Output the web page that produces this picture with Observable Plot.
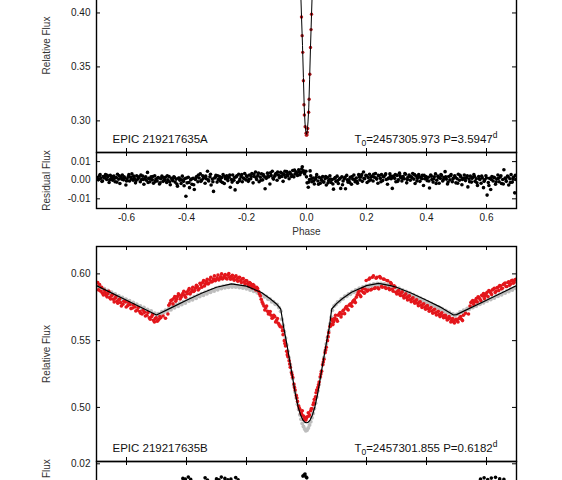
<!DOCTYPE html>
<html><head><meta charset="utf-8">
<script src="https://cdn.jsdelivr.net/npm/d3@7"></script>
<script src="https://cdn.jsdelivr.net/npm/@observablehq/plot@0.6"></script>
<style>
html,body{margin:0;padding:0;background:#fff;}
#wrap{position:relative;width:562px;height:480px;overflow:hidden;background:#fff;}
</style></head>
<body><div id="wrap"></div>
<script>
// ---------- tick values ----------
const XTICKS = [-0.6,-0.4,-0.2,0,0.2,0.4,0.6];
const A_YTICKS = [0.30,0.35,0.40,0.45];
const RA_YTICKS = [-0.01,0,0.01];
const B_YTICKS = [0.50,0.55,0.60];
const RB_YTICKS = [-0.02,0,0.02];

// ---------- labels ----------
const LABEL_A = "EPIC 219217635A";
const LABEL_B = "EPIC 219217635B";
const EPHEM_A = "=2457305.973 P=3.5947";
const EPHEM_B = "=2457301.855 P=0.6182";

// ---------- EPIC 219217635A: phased data [phase, flux] ----------
const dataA = [[-.0167,.3963],[-.0145,.3790],[-.0125,.3635],[-.0103,.3372],[-.0085,.3150],[-.0072,.3055],[-.0045,.2945],[-.0015,.2885],[0,.2868],[.0012,.2872],[.0025,.2895],[.0040,.2930],[.0072,.3080],[.0088,.3200],[.0110,.3432],[.0133,.3680],[.0152,.3846],[.0167,.3988]];
// model curve A
const modelA = [[-.0227,.450],[-.0167,.397],[-.0133,.370],[-.0103,.340],[-.0075,.312],[-.0050,.298],[-.0025,.2905],[0,.2875],[.0025,.2905],[.0050,.299],[.0075,.312],[.0103,.338],[.0133,.368],[.0167,.398],[.0227,.450]];

// residuals A [phase, residual]
const residA = [[-.698,.0015],[-.694,.0002],[-.690,.0024],[-.686,.0010],[-.682,-.0006],[-.678,.0020],[-.674,.0012],[-.670,.0030],[-.666,.0004],[-.662,.0018],[-.658,-.0012],[-.654,.0026],[-.650,.0010],[-.646,.0000],[-.642,.0022],[-.638,-.0008],[-.634,.0014],[-.630,.0032],[-.626,.0006],[-.622,-.0018],[-.618,.0016],[-.614,.0028],[-.610,.0002],[-.606,.0012],[-.602,-.0026],[-.598,.0008],[-.594,.0020],[-.590,-.0004],[-.586,.0016],[-.582,.0034],[-.578,.0000],[-.574,.0010],[-.570,-.0014],[-.566,.0024],[-.562,.0006],[-.558,.0018],[-.554,-.0008],[-.550,.0004],[-.546,.0022],[-.542,-.0022],[-.538,.0012],[-.534,.0000],[-.530,.0042],
[-.526,.0010],[-.522,-.0008],[-.518,.0018],[-.514,.0002],[-.510,-.0016],[-.506,.0024],[-.502,.0006],[-.498,-.0004],[-.494,.0014],[-.490,-.0020],[-.486,.0008],[-.482,.0022],[-.478,-.0006],[-.474,.0004],[-.470,.0016],[-.466,-.0012],[-.462,.0002],[-.458,.0020],[-.454,-.0024],[-.450,.0010],[-.446,-.0002],[-.442,.0018],[-.438,-.0010],[-.434,.0006],[-.430,-.0032],[-.426,.0012],[-.422,.0000],[-.418,-.0018],[-.414,.0022],[-.410,-.0006],[-.406,.0008],[-.402,-.0086],[-.398,-.0014],[-.394,.0016],[-.390,-.0040],[-.386,.0002],[-.382,-.0022],[-.378,.0010],[-.374,-.0050],[-.370,.0004],
[-.366,.0020],[-.362,-.0008],[-.358,.0012],[-.354,.0034],[-.350,.0000],[-.346,.0024],[-.342,.0016],[-.338,-.0016],[-.334,.0008],[-.330,.0048],[-.326,-.0004],[-.322,.0018],[-.318,-.0026],[-.314,.0006],[-.310,-.0060],[-.306,.0012],[-.302,.0026],[-.298,-.0010],[-.294,.0004],[-.290,.0020],[-.286,-.0006],[-.282,.0014],[-.278,.0030],[-.274,-.0018],[-.270,.0008],[-.266,.0024],[-.262,-.0002],[-.258,.0016],[-.254,-.0038],[-.250,.0004],[-.246,.0028],[-.242,.0000],[-.238,-.0052],[-.234,.0018],[-.230,-.0012],[-.226,.0032],[-.222,.0006],[-.218,.0020],[-.214,-.0008],[-.210,.0012],[-.206,.0036],[-.202,.0002],
[-.198,.0018],[-.194,-.0006],[-.190,.0028],[-.186,.0008],[-.182,.0036],[-.178,-.0014],[-.174,.0020],[-.170,.0044],[-.166,.0004],[-.162,.0026],[-.158,-.0008],[-.154,.0016],[-.150,.0034],[-.146,.0002],[-.142,.0022],[-.138,-.0046],[-.134,.0010],[-.130,.0038],[-.126,.0018],[-.122,-.0020],[-.118,.0026],[-.114,.0048],[-.110,.0006],[-.106,.0022],[-.102,.0036],[-.098,.0000],[-.094,.0028],[-.090,.0014],[-.086,.0042],[-.082,.0020],[-.078,-.0006],[-.074,.0030],[-.070,.0016],[-.066,.0046],[-.062,.0024],[-.058,.0008],[-.054,.0036],[-.050,.0020],[-.046,.0052],[-.042,.0018],[-.038,.0034],[-.034,.0044],[-.030,.0026],[-.026,.0056],[-.022,.0030],[-.018,.0042],[-.014,.0072],[-.010,.0050],[-.006,.0034],[-.002,.0048],
[.002,-.0014],[.006,-.0038],[.010,.0004],[.012,.0050],[.014,.0024],[.018,-.0008],[.022,.0012],[.026,-.0020],[.030,.0006],[.034,.0030],[.038,-.0004],[.042,.0016],[.046,-.0016],[.050,.0000],[.054,.0020],[.058,-.0010],[.062,.0008],[.066,-.0026],[.070,.0014],[.074,-.0002],[.078,.0024],[.082,-.0012],[.086,.0004],[.090,-.0048],[.094,.0010],[.098,-.0006],[.102,.0022],[.106,-.0018],[.110,.0006],[.114,-.0044],[.118,.0018],[.122,-.0004],[.126,.0008],[.130,-.0046],[.134,.0026],[.138,-.0010],[.142,.0002],[.146,.0016],[.150,-.0022],[.154,.0006],[.158,.0028],[.162,-.0008],[.166,.0012],[.170,-.0016],[.174,.0030],[.178,.0002],
[.182,.0018],[.186,-.0006],[.190,.0044],[.194,.0008],[.198,.0026],[.202,-.0012],[.206,.0014],[.210,.0032],[.214,.0002],[.218,.0020],[.222,-.0004],[.226,.0016],[.230,.0036],[.234,.0006],[.238,-.0016],[.242,.0024],[.246,.0010],[.250,.0030],[.254,-.0002],[.258,.0018],[.262,.0028],[.266,.0004],[.270,-.0022],[.274,.0012],[.278,.0034],[.282,.0008],[.286,-.0044],[.290,.0022],[.294,.0010],[.298,-.0008],[.302,.0026],[.306,.0002],[.310,.0038],[.314,.0014],[.318,-.0004],[.322,.0020],[.326,.0008],[.330,.0032],[.334,-.0014],[.338,.0016],[.342,.0028],[.346,.0000],[.350,.0018],[.354,.0036],[.358,.0006],[.362,-.0018],[.366,.0022],[.370,.0010],[.374,.0030],[.378,-.0006],[.382,.0014],[.386,.0026],[.390,-.0028],[.394,.0008],[.398,.0020],
[.402,-.0002],[.406,.0016],[.410,-.0042],[.414,.0028],[.418,.0004],[.422,-.0010],[.426,.0018],[.430,.0034],[.434,.0000],[.438,.0022],[.442,-.0016],[.446,.0010],[.450,.0026],[.454,-.0004],[.458,.0014],[.462,.0046],[.466,.0006],[.470,-.0020],[.474,.0020],[.478,.0002],[.482,.0030],[.486,-.0008],[.490,.0012],[.494,.0024],[.498,-.0014],[.502,.0008],[.506,.0032],[.510,.0000],[.514,.0018],[.518,-.0024],[.522,.0010],[.526,.0028],[.530,-.0002],[.534,.0014],[.538,-.0036],[.542,.0006],[.546,.0022],[.550,-.0010],[.554,.0016],[.558,.0030],[.562,-.0006],[.566,.0008],[.570,-.0028],[.574,.0020],[.578,.0004],[.582,-.0016],[.586,.0012],[.590,-.0040],[.594,.0002],[.598,.0024],[.602,-.0080],[.606,-.0012],[.610,.0010],[.614,-.0050],[.618,.0020],[.622,-.0004],[.626,.0014],[.630,-.0022],[.634,.0006],[.638,.0028],[.642,-.0008],[.646,.0018],[.650,-.0018],[.654,.0004],[.658,.0056],[.662,.0012],[.666,-.0006],[.670,.0022],[.674,-.0026],[.678,.0008],[.682,.0030],[.686,-.0010],[.690,.0016],[.694,-.0068],[.698,.0004]];

// residuals A, second group of cadences [phase, residual]
const residA2 = [[-.696,.0008],[-.688,.0030],[-.680,-.0004],[-.672,.0016],[-.664,.0026],[-.656,.0002],[-.648,.0020],[-.640,.0010],[-.632,-.0010],[-.624,.0024],[-.616,.0006],[-.608,.0018],[-.600,-.0004],[-.592,.0030],[-.584,.0008],[-.576,.0022],[-.568,-.0002],[-.560,.0014],[-.552,.0028],[-.544,.0004],[-.536,.0018],[-.528,-.0012],
[-.520,.0008],[-.512,.0020],[-.504,-.0006],[-.496,.0012],[-.488,-.0014],[-.480,.0016],[-.472,.0000],[-.464,.0024],[-.456,-.0008],[-.448,.0006],[-.440,.0014],[-.432,-.0020],[-.424,.0010],[-.416,.0002],[-.408,-.0030],[-.400,.0012],[-.392,-.0012],[-.384,.0006],[-.376,-.0024],
[-.368,.0014],[-.360,.0028],[-.352,-.0006],[-.344,.0010],[-.336,.0022],[-.328,.0002],[-.320,.0032],[-.312,-.0008],[-.304,.0016],[-.296,.0024],[-.288,.0004],[-.280,-.0012],[-.272,.0020],[-.264,.0010],[-.256,.0028],[-.248,-.0010],[-.240,.0014],[-.232,.0024],[-.224,-.0004],[-.216,.0030],[-.208,.0008],
[-.200,.0024],[-.192,.0004],[-.184,.0020],[-.176,.0032],[-.168,.0014],[-.160,.0038],[-.152,.0000],[-.144,.0030],[-.136,.0016],[-.128,.0024],[-.120,.0040],[-.112,.0012],[-.104,.0030],[-.096,.0044],[-.088,.0022],[-.080,.0036],[-.072,.0048],[-.064,.0030],[-.056,.0042],[-.048,.0028],[-.040,.0054],[-.032,.0036],[-.024,.0046],[-.016,.0060],[-.008,.0040],
[.000,.0018],[.008,-.0010],[.016,.0008],[.024,-.0004],[.032,.0016],[.040,-.0022],[.048,.0010],[.056,-.0008],[.064,.0020],[.072,-.0014],[.080,.0006],[.088,-.0020],[.096,.0014],[.104,-.0002],[.112,.0010],[.120,-.0024],[.128,.0016],[.136,.0002],[.144,-.0012],[.152,.0020],[.160,.0004],[.168,-.0006],[.176,.0018],
[.184,.0030],[.192,.0010],[.200,.0024],[.208,-.0004],[.216,.0018],[.224,.0032],[.232,.0012],[.240,.0026],[.248,-.0008],[.256,.0020],[.264,.0034],[.272,.0008],[.280,.0022],[.288,.0014],[.296,.0030],[.304,-.0006],[.312,.0024],[.320,.0010],[.328,.0036],[.336,.0004],[.344,.0020],[.352,.0012],[.360,.0030],[.368,-.0004],[.376,.0018],[.384,.0008],[.392,.0026],
[.400,.0012],[.408,-.0004],[.416,.0022],[.424,.0008],[.432,-.0018],[.440,.0014],[.448,.0030],[.456,.0002],[.464,.0018],[.472,-.0010],[.480,.0024],[.488,.0006],[.496,.0016],[.504,-.0016],[.512,.0026],[.520,.0004],[.528,.0012],[.536,.0024],[.544,-.0008],[.552,.0010],[.560,.0020],[.568,-.0014],[.576,.0008],[.584,.0022],[.592,-.0006],[.600,.0012],[.608,-.0028],[.616,.0004],[.624,.0016],[.632,-.0010],[.640,.0010],[.648,.0024],[.656,-.0020],[.664,.0006],[.672,.0018],[.680,-.0012],[.688,.0008],[.696,.0026]];

// ---------- EPIC 219217635B ----------
// gray data set [phase, flux]
const grayB = [[-.698,.5912],[-.692,.5890],[-.686,.5902],[-.680,.5878],[-.674,.5888],[-.668,.5865],[-.662,.5876],[-.656,.5852],[-.650,.5862],[-.644,.5838],[-.638,.5850],[-.632,.5826],[-.626,.5836],[-.620,.5812],[-.614,.5824],[-.608,.5800],[-.602,.5810],[-.596,.5788],[-.590,.5798],[-.584,.5774],[-.578,.5786],[-.572,.5762],[-.566,.5772],[-.560,.5750],[-.554,.5760],[-.548,.5736],[-.542,.5748],[-.536,.5724],[-.530,.5734],[-.524,.5712],[-.518,.5722],[-.512,.5698],[-.506,.5706],[-.500,.5686],[-.494,.5702],[-.488,.5694],[-.482,.5716],[-.476,.5708],[-.470,.5728],[-.464,.5720],[-.458,.5742],[-.452,.5732],[-.446,.5754],[-.440,.5746],[-.434,.5768],[-.428,.5758],[-.422,.5780],[-.416,.5770],[-.410,.5792],[-.404,.5782],[-.398,.5804],[-.392,.5796],[-.386,.5816],[-.380,.5806],[-.374,.5828],[-.368,.5818],[-.362,.5840],[-.356,.5830],[-.350,.5852],[-.344,.5840],[-.338,.5862],[-.332,.5852],[-.326,.5872],[-.320,.5862],[-.314,.5882],[-.308,.5872],[-.302,.5892],[-.296,.5882],[-.290,.5900],[-.284,.5890],[-.278,.5908],[-.272,.5896],[-.266,.5912],[-.260,.5900],[-.254,.5914],[-.248,.5902],[-.242,.5916],[-.236,.5902],[-.230,.5912],[-.224,.5898],[-.218,.5908],[-.212,.5894],[-.206,.5902],[-.200,.5888],[-.194,.5896],[-.188,.5880],[-.182,.5886],[-.176,.5870],[-.170,.5874],[-.164,.5858],[-.158,.5862],[-.152,.5844],[-.146,.5846],[-.140,.5828],[-.134,.5830],[-.128,.5810],[-.122,.5812],[-.116,.5792],[-.110,.5792],[-.104,.5772],[-.098,.5770],[-.092,.5748],[-.086,.5720],[-.082,.5660],[-.078,.5615],[-.074,.5568],[-.070,.5520],[-.066,.5468],[-.062,.5420],[-.058,.5370],[-.054,.5318],[-.050,.5268],[-.046,.5216],[-.042,.5166],[-.038,.5116],[-.034,.5070],[-.030,.5024],[-.026,.4984],[-.022,.4946],[-.018,.4912],[-.014,.4880],[-.010,.4858],[-.006,.4838],[-.002,.4826],[.002,.4830],[.006,.4846],[.010,.4868],[.014,.4892],[.018,.4922],[.022,.4955],[.026,.4992],[.030,.5032],[.034,.5078],[.038,.5124],[.042,.5172],[.046,.5222],[.050,.5272],[.054,.5322],[.058,.5372],[.062,.5424],[.066,.5474],[.070,.5524],[.074,.5574],[.078,.5624],[.082,.5676],[.086,.5728],[.092,.5760],[.098,.5770],[.104,.5790],[.110,.5794],[.116,.5812],[.122,.5814],[.128,.5832],[.134,.5832],[.140,.5850],[.146,.5848],[.152,.5866],[.158,.5862],[.164,.5880],[.170,.5876],[.176,.5892],[.182,.5886],[.188,.5902],[.194,.5896],[.200,.5912],[.206,.5904],[.212,.5918],[.218,.5910],[.224,.5924],[.230,.5914],[.236,.5928],[.242,.5918],[.248,.5928],[.254,.5916],[.260,.5924],[.266,.5912],[.272,.5920],[.278,.5904],[.284,.5912],[.290,.5896],[.296,.5902],[.302,.5886],[.308,.5892],[.314,.5874],[.320,.5880],[.326,.5862],[.332,.5868],[.338,.5850],[.344,.5856],[.350,.5838],[.356,.5844],[.362,.5826],[.368,.5830],[.374,.5812],[.380,.5818],[.386,.5800],[.392,.5804],[.398,.5786],[.404,.5792],[.410,.5772],[.416,.5778],[.422,.5760],[.428,.5764],[.434,.5746],[.440,.5752],[.446,.5734],[.452,.5738],[.458,.5720],[.464,.5726],[.470,.5708],[.476,.5712],[.482,.5696],[.488,.5700],[.494,.5686],[.500,.5696],[.506,.5700],[.512,.5714],[.518,.5712],[.524,.5728],[.530,.5724],[.536,.5740],[.542,.5736],[.548,.5752],[.554,.5748],[.560,.5764],[.566,.5760],[.572,.5776],[.578,.5772],[.584,.5788],[.590,.5784],[.596,.5800],[.602,.5796],[.608,.5812],[.614,.5808],[.620,.5824],[.626,.5820],[.632,.5836],[.638,.5832],[.644,.5848],[.650,.5844],[.656,.5860],[.662,.5856],[.668,.5872],[.674,.5868],[.680,.5884],[.686,.5880],[.692,.5896],[.698,.5892]];

// red data set [phase, flux]
const redB = [[-.696,.5935],[-.690,.5920],[-.686,.5870],[-.680,.5855],[-.674,.5878],[-.668,.5840],[-.662,.5852],[-.656,.5822],[-.650,.5835],[-.644,.5810],[-.638,.5818],[-.632,.5795],[-.626,.5805],[-.620,.5785],[-.612,.5772],[-.604,.5790],[-.596,.5762],[-.588,.5770],[-.580,.5745],[-.572,.5752],[-.564,.5730],[-.556,.5718],[-.548,.5700],[-.540,.5712],[-.532,.5690],[-.524,.5672],[-.516,.5680],[-.510,.5652],[-.504,.5665],[-.498,.5645],[-.492,.5660],[-.486,.5672],[-.478,.5685],[-.470,.5668],
[-.462,.5700],[-.455,.5780],[-.448,.5805],[-.442,.5818],[-.436,.5795],[-.430,.5830],[-.424,.5842],[-.418,.5825],[-.412,.5855],[-.406,.5838],[-.400,.5862],[-.394,.5875],[-.388,.5850],[-.382,.5880],[-.376,.5868],[-.370,.5895],[-.364,.5905],[-.358,.5888],
[-.352,.5918],[-.346,.5935],[-.340,.5910],[-.334,.5942],[-.328,.5925],[-.322,.5955],[-.316,.5940],[-.310,.5962],[-.304,.5948],[-.298,.5970],[-.292,.5955],[-.286,.5978],[-.280,.5962],[-.274,.5985],[-.268,.5968],[-.262,.5990],[-.256,.5975],[-.250,.5982],[-.244,.5965],[-.238,.5978],[-.232,.5960],[-.226,.5972],[-.220,.5950],[-.214,.5962],[-.208,.5940],[-.202,.5950],[-.196,.5928],[-.190,.5935],[-.184,.5912],[-.178,.5920],[-.172,.5895],[-.166,.5900],
[-.160,.5870],[-.154,.5835],[-.148,.5790],[-.142,.5760],[-.136,.5745],[-.130,.5720],[-.124,.5705],[-.118,.5690],[-.112,.5672],[-.106,.5680],[-.100,.5650],[-.094,.5630],[-.088,.5605],
[-.082,.5600],[-.078,.5545],[-.074,.5500],[-.070,.5460],[-.066,.5420],[-.062,.5380],[-.058,.5350],[-.054,.5300],[-.050,.5260],[-.046,.5225],[-.042,.5175],[-.038,.5130],[-.034,.5090],[-.030,.5045],[-.026,.5010],[-.022,.4985],[-.018,.4960],[-.014,.4975],[-.010,.4935],[-.006,.4925],[-.002,.4905],[.002,.4930],[.006,.4960],[.010,.4945],[.014,.4975],[.018,.4990],[.022,.5020],[.026,.5060],[.030,.5080],[.034,.5130],[.038,.5150],[.042,.5190],[.046,.5230],[.050,.5270],[.054,.5320],[.058,.5360],[.062,.5410],[.066,.5450],[.070,.5500],[.074,.5560],[.078,.5605],
[.082,.5625],[.086,.5650],[.090,.5640],[.094,.5670],[.100,.5660],[.106,.5690],[.112,.5710],[.118,.5700],[.124,.5730],[.130,.5745],[.136,.5738],[.142,.5765],[.148,.5775],[.154,.5790],[.160,.5805],
[.166,.5825],[.172,.5858],[.178,.5842],[.184,.5872],[.190,.5860],[.196,.5885],[.202,.5870],[.208,.5960],[.214,.5880],[.220,.5975],[.226,.5890],[.232,.5968],[.238,.5895],[.244,.5980],[.250,.5905],[.256,.5962],[.262,.5900],[.268,.5950],[.274,.5892],[.280,.5935],[.286,.5885],[.292,.5910],
[.298,.5862],[.304,.5870],[.310,.5850],[.316,.5858],[.322,.5835],[.328,.5842],[.334,.5822],[.340,.5830],[.346,.5808],[.352,.5815],[.358,.5795],[.364,.5800],[.370,.5780],[.376,.5788],[.382,.5765],[.388,.5772],[.394,.5750],[.400,.5758],[.406,.5738],[.412,.5742],[.418,.5722],[.424,.5730],[.430,.5708],[.436,.5715],[.442,.5695],[.448,.5702],[.454,.5685],
[.460,.5690],[.466,.5672],[.472,.5660],[.478,.5668],[.484,.5650],[.490,.5642],[.496,.5655],[.502,.5648],[.508,.5665],[.514,.5680],[.520,.5650],[.540,.5700],
[.548,.5785],[.554,.5800],[.560,.5790],[.566,.5815],[.572,.5828],[.578,.5812],[.584,.5840],[.590,.5852],[.596,.5835],[.602,.5862],[.608,.5875],[.614,.5858],[.620,.5880],[.626,.5892],[.632,.5870],[.638,.5900],[.644,.5912],[.650,.5888],[.656,.5920],[.662,.5932],[.668,.5905],[.674,.5940],[.680,.5925],[.686,.5952],[.692,.5935],[.698,.5960]];

// red data set, further cycles [phase, flux]
const redB2 = [[-.693,.5880],[-.683,.5900],[-.677,.5842],[-.671,.5860],[-.665,.5828],[-.659,.5870],[-.653,.5812],[-.647,.5845],[-.641,.5790],[-.635,.5830],[-.629,.5780],[-.623,.5812],[-.617,.5760],[-.609,.5795],[-.601,.5752],[-.593,.5785],[-.585,.5740],[-.577,.5768],[-.569,.5722],[-.561,.5748],[-.553,.5706],[-.545,.5728],[-.537,.5685],[-.529,.5710],[-.521,.5660],[-.513,.5695],[-.507,.5640],[-.501,.5672],[-.495,.5650],[-.489,.5680],
[-.459,.5765],[-.452,.5800],[-.445,.5775],[-.439,.5830],[-.433,.5810],[-.427,.5850],[-.421,.5812],[-.415,.5840],[-.409,.5870],[-.403,.5825],[-.397,.5852],[-.391,.5890],[-.385,.5862],[-.379,.5900],[-.373,.5875],[-.367,.5915],[-.361,.5880],
[-.355,.5930],[-.349,.5900],[-.343,.5950],[-.337,.5925],[-.331,.5960],[-.325,.5932],[-.319,.5975],[-.313,.5945],[-.307,.5985],[-.301,.5958],[-.295,.5992],[-.289,.5965],[-.283,.6000],[-.277,.5970],[-.271,.5995],[-.265,.5962],[-.259,.6002],[-.253,.5960],[-.247,.5990],[-.241,.5952],[-.235,.5985],[-.229,.5945],[-.223,.5975],[-.217,.5935],[-.211,.5965],[-.205,.5925],[-.199,.5948],[-.193,.5910],[-.187,.5930],[-.181,.5895],[-.175,.5912],[-.169,.5880],[-.163,.5890],
[-.157,.5850],[-.151,.5810],[-.145,.5775],[-.139,.5730],[-.133,.5760],[-.127,.5700],[-.121,.5718],[-.115,.5668],[-.109,.5690],[-.103,.5640],[-.097,.5665],[-.091,.5618],
[-.080,.5575],[-.072,.5478],[-.064,.5395],[-.056,.5325],[-.048,.5245],[-.040,.5150],[-.032,.5070],[-.024,.4995],[-.016,.4948],[-.008,.4910],[.000,.4920],[.008,.4935],[.016,.4990],[.024,.5035],[.032,.5110],[.040,.5170],[.048,.5250],[.056,.5340],[.064,.5430],[.072,.5530],[.080,.5610],
[.084,.5660],[.088,.5620],[.092,.5655],[.097,.5690],[.103,.5645],[.109,.5700],[.115,.5678],[.121,.5722],[.127,.5702],[.133,.5755],[.139,.5730],[.145,.5772],[.151,.5758],[.157,.5800],[.163,.5785],
[.169,.5842],[.175,.5870],[.181,.5830],[.187,.5890],[.193,.5855],[.199,.5950],[.205,.5878],[.211,.5968],[.217,.5885],[.223,.5985],[.229,.5895],[.235,.5975],[.241,.5888],[.247,.5970],[.253,.5900],[.259,.5960],[.265,.5890],[.271,.5948],[.277,.5882],[.283,.5925],[.289,.5870],[.295,.5900],
[.301,.5850],[.307,.5875],[.313,.5838],[.319,.5865],[.325,.5820],[.331,.5850],[.337,.5805],[.343,.5835],[.349,.5792],[.355,.5820],[.361,.5780],[.367,.5805],[.373,.5762],[.379,.5790],[.385,.5748],[.391,.5775],[.397,.5735],[.403,.5762],[.409,.5720],[.415,.5748],[.421,.5705],[.427,.5735],[.433,.5692],[.439,.5720],[.445,.5680],[.451,.5708],
[.457,.5672],[.463,.5690],[.469,.5655],[.475,.5680],[.481,.5640],[.487,.5665],[.493,.5632],[.499,.5660],[.505,.5640],[.511,.5672],[.517,.5660],[.523,.5690],[.530,.5705],
[.545,.5760],[.551,.5790],[.557,.5772],[.563,.5800],[.569,.5790],[.575,.5822],[.581,.5800],[.587,.5835],[.593,.5815],[.599,.5850],[.605,.5830],[.611,.5870],[.617,.5845],[.623,.5885],[.629,.5860],[.635,.5895],[.641,.5875],[.647,.5910],[.653,.5892],[.659,.5925],[.665,.5905],[.671,.5935],[.677,.5915],[.683,.5948],[.689,.5930],[.695,.5955]];

// model curve B
const modelB = [[-.70,.5912],[-.60,.5802],[-.50,.5692],[-.45,.5747],[-.40,.5802],[-.35,.5855],[-.30,.5900],[-.25,.5925],[-.20,.5908],[-.15,.5860],[-.12,.5812],[-.10,.5775],[-.086,.5737],[-.076,.5600],[-.066,.5480],[-.056,.5350],[-.046,.5220],[-.037,.5100],[-.028,.5005],[-.020,.4945],[-.012,.4905],[-.005,.4888],[0,.4885],[.005,.4888],[.012,.4905],[.020,.4945],[.028,.5005],[.037,.5100],[.046,.5220],[.056,.5350],[.066,.5480],[.076,.5600],[.084,.5737],[.10,.5777],[.12,.5815],[.15,.5862],[.20,.5912],[.24,.5929],[.28,.5912],[.30,.5900],[.35,.5855],[.40,.5802],[.45,.5747],[.49,.5692],[.50,.5695],[.60,.5802],[.70,.5912]];

// residuals B [phase, residual]
const residB = [[-.600,.0010],[-.500,-.0020],[-.412,.0086],[-.404,.0080],[-.394,.0096],[-.386,.0078],[-.338,.0090],[-.330,.0072],[-.300,.0082],[-.292,.0074],[-.284,.0096],[-.272,.0086],[-.262,.0074],[-.252,.0080],[-.236,.0092],[-.228,.0074],[-.100,-.0060],[-.012,.0104],[-.008,.0112],[-.005,.0120],[-.002,.0098],[.001,.0090],[.100,-.0070],[.300,-.0030],[.500,-.0020],[.580,.0080],[.592,.0090],[.604,.0076],[.616,.0088],[.630,.0094],[.644,.0082],[.658,.0078]];

// ---------- layout ----------
const FONT = "'Liberation Sans', Arial, Helvetica, sans-serif";
const W = 562, ML = 96, MR = 46, PW = W - ML - MR, TICK = 4;
const wrap = document.getElementById("wrap");
const px = d => d[0], py = d => d[1];

function frameMarks(h, yt) {
  return [
    Plot.tickX(XTICKS, {x: d => d, insetTop: h - TICK, stroke: "#000", strokeWidth: 1}),
    Plot.tickX(XTICKS, {x: d => d, insetBottom: h - TICK, stroke: "#000", strokeWidth: 1}),
    Plot.tickY(yt, {y: d => d, insetRight: PW - TICK, stroke: "#000", strokeWidth: 1}),
    Plot.tickY(yt, {y: d => d, insetLeft: PW - TICK, stroke: "#000", strokeWidth: 1}),
    Plot.frame({stroke: "#000", strokeWidth: 1.4})
  ];
}

function panel(o) {
  const svg = Plot.plot({
    width: W, height: o.h,
    marginLeft: ML, marginRight: MR, marginTop: 0, marginBottom: 0,
    style: {background: "transparent", overflow: "visible", fontFamily: FONT, fontSize: "10px", color: "#1a1a1a"},
    x: {domain: [-0.7, 0.7], ticks: XTICKS, tickFormat: d => d.toFixed(1), tickSize: 0, tickPadding: 5, label: null, axis: o.xaxis ? "bottom" : null},
    y: {domain: o.dom, ticks: o.yt, tickFormat: d => d.toFixed(2), tickSize: 0, tickPadding: 6, label: null},
    marks: [
      ...o.marks,
      ...frameMarks(o.h, o.yt),
      Plot.text([o.ylabel], {frameAnchor: "left", dx: -50, rotate: -90, textAnchor: "middle", lineAnchor: "middle", fontSize: 10, fill: "#333"}),
      ...(o.extra || [])
    ]
  });
  svg.style.position = "absolute";
  svg.style.left = "0px";
  svg.style.top = o.top + "px";
  wrap.appendChild(svg);
  return svg;
}

function annot(name, marker) {
  return [
    Plot.text([name], {frameAnchor: "bottom-left", dx: 16, dy: -9.5, textAnchor: "start", lineAnchor: "bottom", fontSize: 11.5, fill: "#111"}),
    Plot.text([marker], {frameAnchor: "bottom-right", dx: -19, dy: -9.5, textAnchor: "end", lineAnchor: "bottom", fontSize: 11.5, fill: "#111"})
  ];
}

function richEphem(svg, marker, main) {
  const ns = "http://www.w3.org/2000/svg";
  svg.querySelectorAll("text").forEach(t => {
    if (t.textContent === marker) {
      t.textContent = "";
      const add = (s, attrs) => {
        const ts = document.createElementNS(ns, "tspan");
        ts.textContent = s;
        for (const k in attrs) ts.setAttribute(k, attrs[k]);
        t.appendChild(ts);
      };
      add("T");
      add("0", {dy: "3", "font-size": "8.5"});
      add(main, {dy: "-3"});
      add("d", {dy: "-5", "font-size": "8.5"});
    }
  });
}

// Panel A light curve
const svgA = panel({
  top: -62, h: 214, dom: [0.2707, 0.469], yt: A_YTICKS, ylabel: "Relative Flux",
  marks: [
    Plot.dot(dataA, {x: px, y: py, r: 1.7, fill: "#b3161b", clip: true}),
    Plot.line(modelA, {x: px, y: py, stroke: "#000", strokeWidth: 1, clip: true})
  ],
  extra: annot(LABEL_A, "T0A")
});
richEphem(svgA, "T0A", EPHEM_A);

// Panel A residuals
panel({
  top: 152, h: 56, dom: [-0.0152, 0.0149], yt: RA_YTICKS, ylabel: "Residual Flux", xaxis: true,
  marks: [
    Plot.dot(residA, {x: px, y: py, r: 1.8, fill: "#000", clip: true}),
    Plot.dot(residA2, {x: px, y: py, r: 1.8, fill: "#000", clip: true})
  ],
  extra: [Plot.text(["Phase"], {frameAnchor: "bottom", dy: 23, lineAnchor: "middle", fontSize: 10, fill: "#333"})]
});

// Panel B light curve
const svgB = panel({
  top: 246, h: 215, dom: [0.4595, 0.6205], yt: B_YTICKS, ylabel: "Relative Flux",
  marks: [
    Plot.dot(grayB, {x: px, y: py, r: 2.0, fill: "#bdbdbd", clip: true}),
    Plot.dot(redB, {x: px, y: py, r: 1.8, fill: "#e3161b", clip: true}),
    Plot.dot(redB2, {x: px, y: py, r: 1.8, fill: "#e3161b", clip: true}),
    Plot.line(modelB, {x: px, y: py, stroke: "#000", strokeWidth: 1.2, clip: true})
  ],
  extra: annot(LABEL_B, "T0B")
});
richEphem(svgB, "T0B", EPHEM_B);

// Panel B residuals
panel({
  top: 461, h: 56, dom: [-0.022, 0.0218], yt: RB_YTICKS, ylabel: "Residual Flux", xaxis: true,
  marks: [Plot.dot(residB, {x: px, y: py, r: 1.8, fill: "#000", clip: true})]
});
</script>
</body></html>
